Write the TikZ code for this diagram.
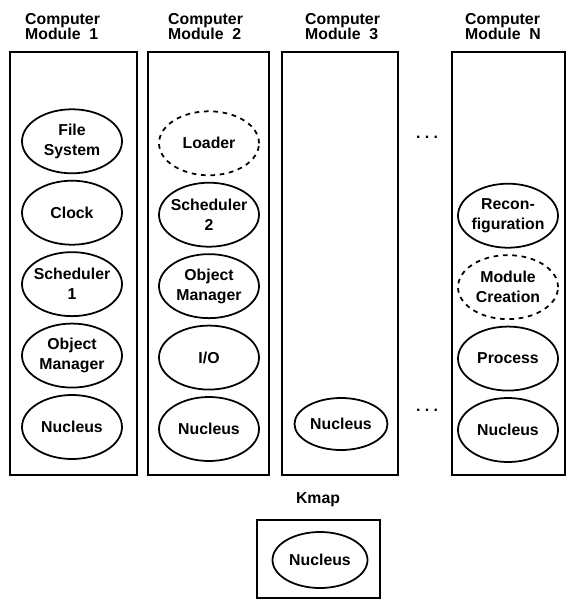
\documentclass[tikz,border=0pt]{standalone}
\usepackage{fontspec}
\setmainfont{Liberation Sans}
\usetikzlibrary{positioning, shapes.geometric}

\begin{document}
\begin{tikzpicture}[
    x=0.03cm, y=-0.03cm,
    node distance=0.17cm,
    font=\fontsize{13.5}{15}\selectfont\bfseries,
    module/.style={draw, line width=1.8pt, minimum width=#1,
                   minimum height=12.69cm, inner sep=0pt},
    title/.style={anchor=north west, align=left, inner sep=0pt,
                  font=\fontsize{13.5}{13}\selectfont\bfseries},
    unit/.style={draw, ellipse, line width=1.5pt, align=center,
                 minimum width=3.0cm, minimum height=1.92cm,
                 inner xsep=-8pt, inner ysep=-3pt,
                 font=\fontsize{13.5}{17}\selectfont\bfseries},
    optional/.style={unit, dash pattern=on 4pt off 4pt},
]
    \useasboundingbox (0,0) rectangle (567,601);

    % computer modules
    \node[module=3.81cm] (mod1) at (73.5,263.5) {};
    \node[module=3.63cm] (mod2) at (208.5,263.5) {};
    \node[module=3.48cm] (mod3) at (340,263.5) {};
    \node[module=3.39cm] (modN) at (508.5,263.5) {};
    \node[title] (title1) at (25,13) {Computer\\Module\ \ 1};
    \node[title] (title2) at (168,13) {Computer\\Module\ \ 2};
    \node[title] (title3) at (305,13) {Computer\\Module\ \ 3};
    \node[title] (titleN) at (465,13) {Computer\\Module\ \ N};

    % module 1
    \node[unit] (nuc1) at (72,427) {Nucleus};
    \node[unit, above=of nuc1] (obj1) {Object\\Manager};
    \node[unit, above=of obj1] (sched1) {Scheduler\\1};
    \node[unit, above=of sched1] (clock1) {Clock};
    \node[unit, above=of clock1] (files1) {File\\System};

    % module 2
    \node[unit] (nuc2) at (209,429) {Nucleus};
    \node[unit, above=of nuc2] (io2) {I/O};
    \node[unit, above=of io2] (obj2) {Object\\Manager};
    \node[unit, above=of obj2] (sched2) {Scheduler\\2};
    \node[optional, above=of sched2] (loader2) {Loader};

    % module 3
    \node[unit, minimum width=2.79cm, minimum height=1.56cm] (nuc3) at (341,424) {Nucleus};

    % module N
    \node[unit] (nucN) at (508,430) {Nucleus};
    \node[unit, above=of nucN] (procN) {Process};
    \node[optional, above=of procN] (createN) {Module\\Creation};
    \node[unit, above=of createN] (reconfN) {Recon-\\figuration};

    \node[anchor=base] (gapTop) at (427,139) {.\ .\ .};
    \node[anchor=base] (gapBot) at (427,411) {.\ .\ .};

    % kmap
    \node[draw, line width=1.8pt, minimum width=3.69cm, minimum height=2.34cm,
          inner sep=0pt] (kmap) at (318.5,559) {};
    \node[unit, minimum width=2.85cm, minimum height=1.68cm] (nucK) at (320,560) {Nucleus};
    \node (kmapLabel) at (318,500) {Kmap};
\end{tikzpicture}
\end{document}
